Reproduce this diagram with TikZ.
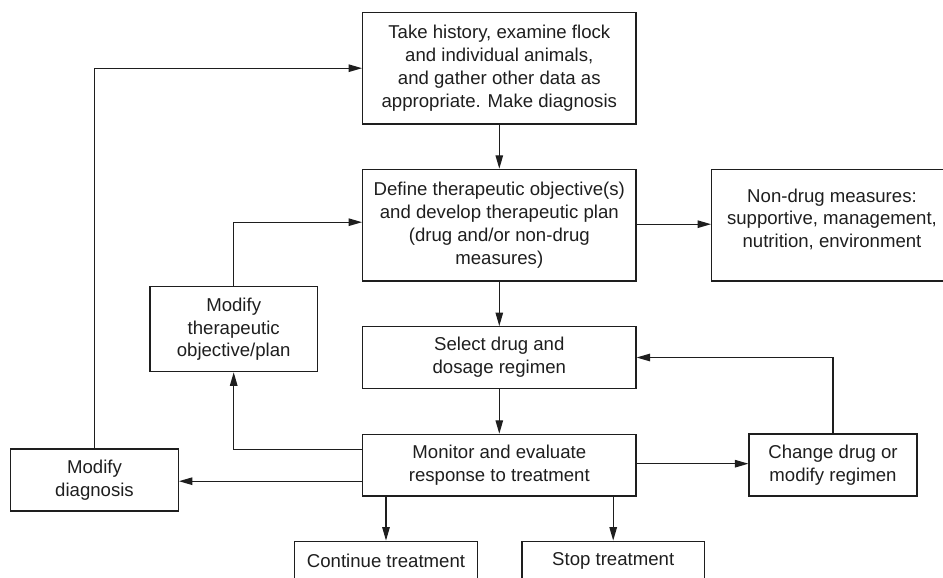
\documentclass[tikz,border=0pt]{standalone}
\usepackage{fontspec}
\setmainfont{Liberation Sans}
\usetikzlibrary{arrows.meta}
\definecolor{ink}{HTML}{1E1E1E}
\begin{document}
\begin{tikzpicture}[x=1pt,y=-1pt,
  box/.style={draw=ink, line width=1.2pt, rectangle, inner sep=0pt, align=center, text=ink,
    font=\fontsize{18.6}{22.7}\selectfont},
  txt/.style={inner sep=0pt, align=center, text=ink, font=\fontsize{18.6}{22.7}\selectfont},
  conn/.style={draw=ink, line width=1.2pt, -{Triangle[length=13.5pt,width=7.5pt]}}]
\useasboundingbox (0,0) rectangle (943,578);

\node[box, minimum width=273.3pt, minimum height=111.7pt] (top) at (499.3,68.2)
  {Take history, examine flock\\and individual animals,\\and gather other data as\\appropriate. Make diagnosis};
\node[box, minimum width=273.3pt, minimum height=111.7pt] (def) at (499.3,225.2)
  {Define therapeutic objective(s)\\and develop therapeutic plan\\(drug and/or non-drug\\measures)};
\node[box, minimum width=240.3pt, minimum height=111.7pt] (nd) at (831.8,225.2) {};
\node[txt] (ndtext) at (832,219.3) {Non-drug measures:\\supportive, management,\\nutrition, environment};
\node[box, minimum width=167.3pt, minimum height=85pt] (modtp) at (233.7,329.2)
  {Modify\\therapeutic\\objective/plan};
\node[box, minimum width=273.3pt, minimum height=61.7pt] (sel) at (499.3,357.5)
  {Select drug and\\dosage regimen};
\node[box, minimum width=273.3pt, minimum height=61.7pt] (mon) at (499.3,465.2)
  {Monitor and evaluate\\response to treatment};
\node[box, minimum width=168pt, minimum height=62pt] (chg) at (833,465)
  {Change drug or\\modify regimen};
\node[box, minimum width=167.6pt, minimum height=62pt] (mdx) at (94.5,480)
  {Modify\\diagnosis};
\node[box, minimum width=182.6pt, minimum height=40pt] (cont) at (386,561.2)
  {Continue treatment};
\node[box, minimum width=182.3pt, minimum height=40pt] (stop) at (613.2,561.2)
  {Stop treatment};

\draw[conn] (top.south) -- (def.north);
\draw[conn] (def.south) -- (sel.north);
\draw[conn] (sel.south) -- (mon.north);
\draw[conn] ([yshift=1pt]def.east) -- ([yshift=1pt]def.east -| nd.west);
\draw[conn] (modtp.north) |- ([yshift=3pt]def.west);
\draw[conn] (mdx.north) |- (top.west);
\draw[conn] ([yshift=16pt]mon.west) -| (modtp.south);
\draw[conn] ([yshift=-16pt]mon.west) -- ([yshift=-16pt]mon.west -| mdx.east);
\draw[conn] ([yshift=1.5pt]mon.east) -- ([yshift=1.5pt]mon.east -| chg.west);
\draw[conn] (chg.north) |- (sel.east);
\draw[conn] (cont.north |- mon.south) -- (cont.north);
\draw[conn] (stop.north |- mon.south) -- (stop.north);
\end{tikzpicture}
\end{document}
